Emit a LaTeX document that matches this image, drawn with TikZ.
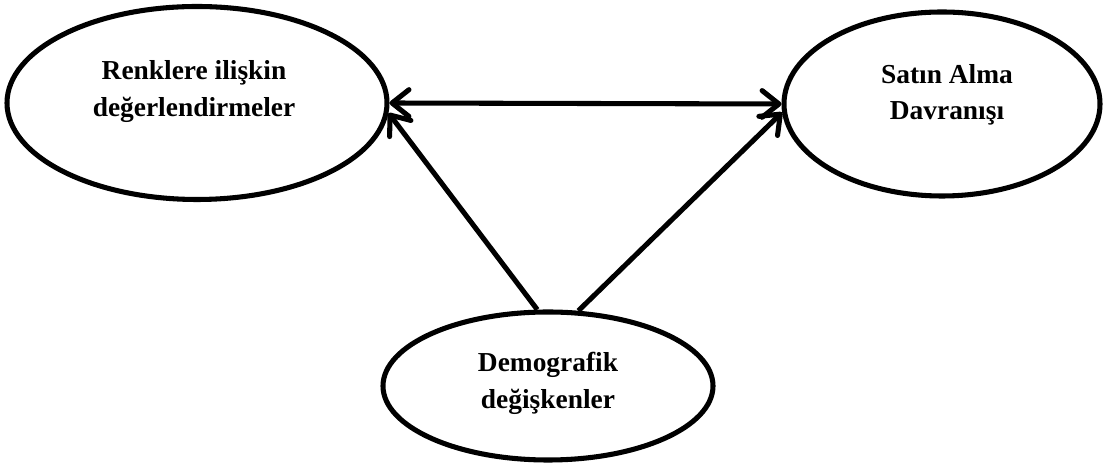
\documentclass[tikz,border=0pt]{standalone}
\usepackage{fontspec}
\setmainfont{Liberation Serif}
\usepackage{tikz}
\usetikzlibrary{shapes.geometric,arrows.meta}

\begin{document}
\begin{tikzpicture}[line width=3.6pt,
    >={Straight Barb[round,length=12pt,width=19pt]},
    oval/.style={draw,ellipse,inner sep=0pt},
    lbl/.style={align=center,font=\fontsize{19.5}{26}\selectfont\bfseries}]
      \useasboundingbox (0,0) rectangle (27.6,11.7);

      \node[oval,minimum width=9.5cm,minimum height=4.825cm] (1) at (4.925,9.125) {};
      \node[oval,minimum width=7.9cm,minimum height=4.6cm] (2) at (23.55,9.1) {};
      \node[oval,minimum width=8.25cm,minimum height=3.7cm] (3) at (13.7,2.05) {};

      \node[lbl] (1t) at (4.85,9.41) {Renklere ilişkin\\değerlendirmeler};
      \node[lbl] (2t) at (23.675,9.325) {Satın Alma\\Davranışı};
      \node[lbl] (3t) at (13.7,2.11) {Demografik\\değişkenler};

      \draw[<->] (1.east) -- (2.west);
      \draw[->] (3.98) -- (1.-3);
      \draw[->] (3.68) -- (2.183);
    \end{tikzpicture}
\end{document}
